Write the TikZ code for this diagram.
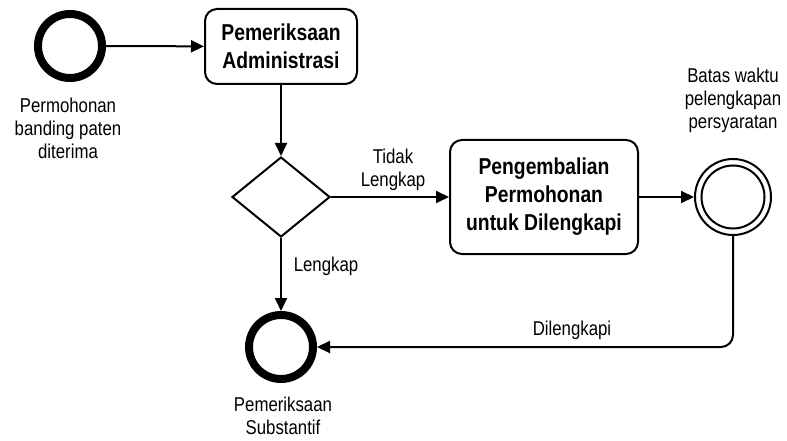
\documentclass[tikz,border=0pt]{standalone}
\usepackage{fontspec}
\setmainfont{Liberation Sans}[FakeStretch=0.84]
\usetikzlibrary{shapes.geometric,arrows.meta}
\begin{document}
\begin{tikzpicture}[x=1pt,y=-1pt,
  flow/.style={line width=2pt,-{Triangle[length=13pt,width=12pt]}},
  task/.style={draw,line width=2pt,rounded corners=12pt,align=center,
    font=\bfseries\fontsize{23}{28}\selectfont,inner sep=0pt},
  event/.style={draw,circle,line width=8pt,minimum size=64pt,inner sep=0pt},
  ring/.style={draw,circle,line width=2pt,inner sep=0pt},
  gateway/.style={draw,diamond,line width=2pt,inner sep=0pt,
    minimum width=98pt,minimum height=80pt},
  lbl/.style={align=center,font=\fontsize{20}{23}\selectfont,inner sep=0pt}
]
\useasboundingbox (0,0) rectangle (787,441);

% events, tasks and the gateway
\node[event] (start) at (70,46) {};
\node[task,minimum width=152pt,minimum height=75pt] (admin) at (281,46.5)
  {Pemeriksaan\\Administrasi};
\node[gateway] (gate) at (281,197) {};
\node[task,minimum width=188pt,minimum height=114pt] (return) at (544,197)
  {Pengembalian\\Permohonan\\untuk Dilengkapi};
\node[ring,minimum size=76pt] (timer) at (733,197) {};
\node[ring,minimum size=63pt] (timerin) at (733,197) {};
\node[event] (finish) at (281,347) {};

% captions
\node[lbl] (startlbl) at (68,128) {Permohonan\\banding paten\\diterima};
\node[lbl] (timerlbl) at (733,100) {Batas waktu\\pelengkapan\\persyaratan};
\node[lbl] (finishlbl) at (283,416) {Pemeriksaan\\Substantif};
\node[lbl] (nolbl) at (393,170) {Tidak\\Lengkap};
\node[lbl] (yeslbl) at (326,266) {Lengkap};
\node[lbl] (donelbl) at (572,330) {Dilengkapi};

% sequence flows
\draw[flow] (start) -- (admin);
\draw[flow] (admin) -- (gate);
\draw[flow] (gate) -- (return);
\draw[flow] (gate) -- (finish);
\draw[flow] (return) -- (timer);
\draw[flow,rounded corners=12pt] (timer) |- (finish);
\end{tikzpicture}
\end{document}
